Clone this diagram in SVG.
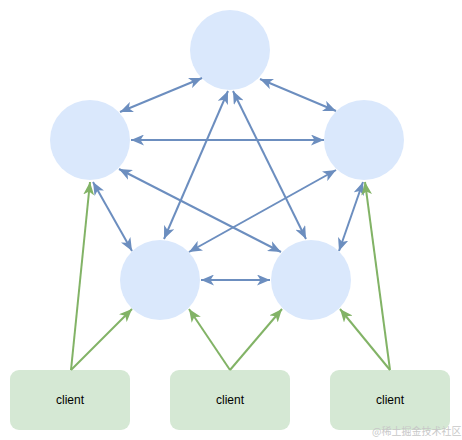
<svg xmlns="http://www.w3.org/2000/svg" width="462" height="440" viewBox="0 0 462 440">
  <style>
    .node { fill: #dae8fc; stroke: none; }
    .client { fill: #d5e8d4; stroke: none; }
    .label { font-family: "Liberation Sans", Arial, sans-serif; font-size: 12px; fill: #000; text-anchor: middle; }
    .blue { stroke: #6c8ebf; stroke-width: 2; fill: none; marker-start: url(#ab); marker-end: url(#ab); }
    .green { stroke: #82b366; stroke-width: 2; fill: none; marker-end: url(#ag); }
    .wm { font-family: "Noto Sans CJK SC", "Liberation Sans", sans-serif; font-size: 10px; fill: #c8c8c8; }
  </style>
  <defs>
    <marker id="ab" viewBox="0 0 13 11" refX="13" refY="5.5" markerWidth="13" markerHeight="11" markerUnits="userSpaceOnUse" orient="auto-start-reverse">
      <path d="M0,0 L13,5.5 L0,11 L3.5,5.5 z" fill="#6c8ebf"/>
    </marker>
    <marker id="ag" viewBox="0 0 13 11" refX="13" refY="5.5" markerWidth="13" markerHeight="11" markerUnits="userSpaceOnUse" orient="auto">
      <path d="M0,0 L13,5.5 L0,11 L3.5,5.5 z" fill="#82b366"/>
    </marker>
  </defs>
  <rect width="462" height="440" fill="#ffffff"/>
  <g id="n-top"><circle class="node" cx="230" cy="50" r="40"/></g>
  <g id="n-left"><circle class="node" cx="90" cy="140" r="40"/></g>
  <g id="n-right"><circle class="node" cx="364" cy="140" r="40"/></g>
  <g id="n-bl"><circle class="node" cx="160" cy="280" r="40"/></g>
  <g id="n-br"><circle class="node" cx="311" cy="280" r="40"/></g>
  <g id="c-left"><rect class="client" x="10" y="370" width="120" height="60" rx="9"/><text class="label" x="70" y="404">client</text></g>
  <g id="c-mid"><rect class="client" x="170" y="370" width="120" height="60" rx="9"/><text class="label" x="230" y="404">client</text></g>
  <g id="c-right"><rect class="client" x="330" y="370" width="120" height="60" rx="9"/><text class="label" x="390" y="404">client</text></g>
  <g id="connectors">
    <line class="blue" x1="120" y1="112" x2="202" y2="78"/>
    <line class="blue" x1="260" y1="79" x2="336" y2="111"/>
    <line class="blue" x1="131" y1="140" x2="324" y2="140"/>
    <line class="blue" x1="119" y1="169" x2="281" y2="252"/>
    <line class="blue" x1="336" y1="170" x2="189" y2="252"/>
    <line class="blue" x1="93" y1="182" x2="132" y2="251"/>
    <line class="blue" x1="363" y1="182" x2="339" y2="251"/>
    <line class="blue" x1="228" y1="91" x2="164" y2="239"/>
    <line class="blue" x1="233" y1="91" x2="306" y2="239"/>
    <line class="blue" x1="201" y1="280" x2="270" y2="280"/>
    <line class="green" x1="71" y1="370" x2="90" y2="182"/>
    <line class="green" x1="71" y1="370" x2="132" y2="309"/>
    <line class="green" x1="230" y1="370" x2="189" y2="309"/>
    <line class="green" x1="230" y1="370" x2="282" y2="309"/>
    <line class="green" x1="390" y1="370" x2="340" y2="309"/>
    <line class="green" x1="390" y1="370" x2="365" y2="182"/>
  </g>
  <text class="wm" x="372" y="435">@稀土掘金技术社区</text>
</svg>
